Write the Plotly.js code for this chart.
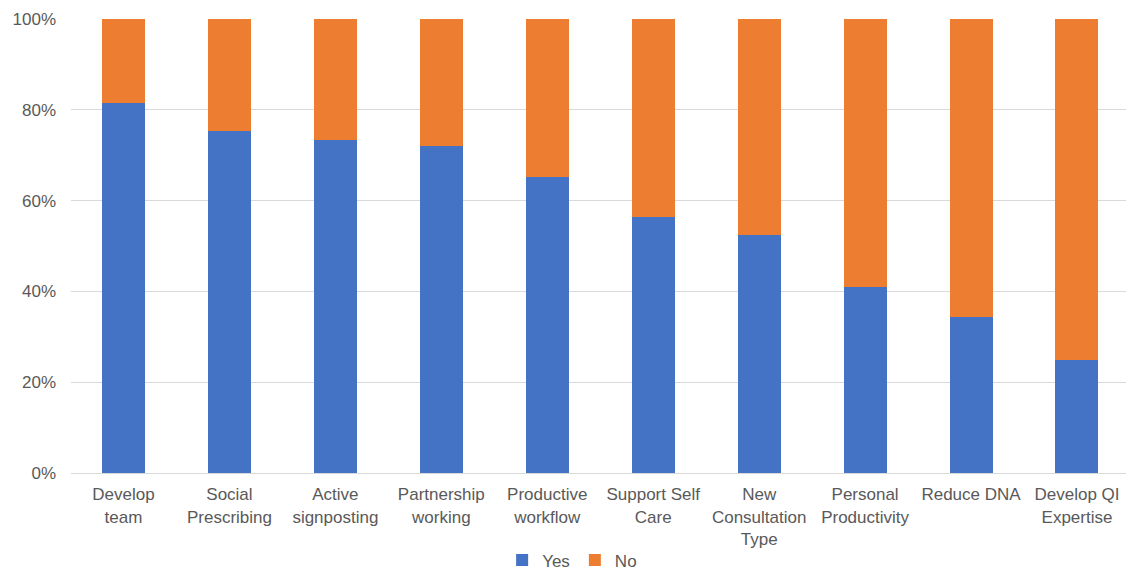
<!DOCTYPE html>
<html>
<head>
<meta charset="utf-8">
<script src="https://cdn.plot.ly/plotly-3.0.1.min.js"></script>
<style>
  html, body { margin: 0; padding: 0; background: #fff; }
  #chart { width: 1126px; height: 573px; }
</style>
</head>
<body>
<div id="chart"></div>
<script>
// Share of responses per improvement area (percent)
const categories = [
  "Develop<br>team",
  "Social<br>Prescribing",
  "Active<br>signposting",
  "Partnership<br>working",
  "Productive<br>workflow",
  "Support Self<br>Care",
  "New<br>Consultation<br>Type",
  "Personal<br>Productivity",
  "Reduce DNA",
  "Develop QI<br>Expertise"
];
const yesValues = [81.5, 75.3, 73.3, 72.0, 65.1, 56.4, 52.4, 40.9, 34.4, 24.8];
const noValues = yesValues.map(v => +(100 - v).toFixed(1));
const yTicks = [0, 20, 40, 60, 80, 100];
const yTickText = yTicks.map(v => v + "%");

const textFont = { family: "Liberation Sans, Arial, Helvetica, sans-serif", size: 17, color: "#595959" };

const traces = [
  { type: "bar", name: "Yes", x: categories, y: yesValues, marker: { color: "#4472C4" } },
  { type: "bar", name: "No", x: categories, y: noValues, marker: { color: "#ED7D31" } }
];

const layout = {
  width: 1126,
  height: 573,
  barmode: "stack",
  bargap: 0.594,
  paper_bgcolor: "#ffffff",
  plot_bgcolor: "#ffffff",
  margin: { l: 71, r: 0, t: 19, b: 100, autoexpand: false },
  font: textFont,
  showlegend: true,
  legend: {
    orientation: "h",
    xref: "paper",
    x: 0.475, xanchor: "center",
    yref: "container",
    y: 0.022, yanchor: "middle",
    font: textFont,
    itemwidth: 30,
    traceorder: "normal"
  },
  xaxis: {
    range: [-0.4956, 9.4627],
    automargin: false,
    tickfont: textFont,
    showgrid: false,
    showline: true,
    linecolor: "#d9d9d9",
    linewidth: 1,
    ticks: "",
    ticklabelstandoff: 6
  },
  yaxis: {
    range: [0, 100],
    automargin: false,
    tickmode: "array",
    tickvals: yTicks,
    ticktext: yTickText,
    tickfont: textFont,
    showgrid: true,
    gridcolor: "#d9d9d9",
    gridwidth: 1,
    zeroline: false,
    showline: false,
    ticks: "",
    ticklabelstandoff: 14
  }
};

Plotly.newPlot("chart", traces, layout, { displayModeBar: false, staticPlot: true });
</script>
</body>
</html>
